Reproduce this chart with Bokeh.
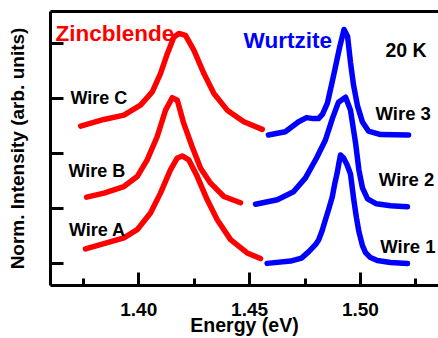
from bokeh.plotting import figure
from bokeh.models import Range1d, FixedTicker, LinearAxis, Label, PrintfTickFormatter
from bokeh.embed import file_html
from bokeh.resources import INLINE

# ---- data (energy in eV, normalized intensity with vertical offsets) ----
e_wire_a = [1.3760, 1.3843, 1.3933, 1.3993, 1.4053, 1.4098, 1.4143, 1.4174, 1.4196,
            1.4226, 1.4264, 1.4309, 1.4354, 1.4414, 1.4489, 1.4549]
i_wire_a = [0.271, 0.367, 0.471, 0.621, 0.923, 1.285, 1.707, 1.924, 1.960,
            1.888, 1.586, 1.164, 0.802, 0.440, 0.199, 0.096]

e_wire_b = [1.3765, 1.3843, 1.3933, 1.3993, 1.4038, 1.4083, 1.4121, 1.4151, 1.4174,
            1.4203, 1.4241, 1.4279, 1.4324, 1.4384, 1.4459]
i_wire_b = [1.213, 1.285, 1.405, 1.586, 1.888, 2.309, 2.793, 3.019, 2.974,
            2.552, 2.128, 1.738, 1.466, 1.224, 1.110]

e_wire_c = [1.3738, 1.3843, 1.3933, 1.4008, 1.4061, 1.4098, 1.4129, 1.4158, 1.4181,
            1.4211, 1.4249, 1.4294, 1.4339, 1.4399, 1.4474, 1.4557]
i_wire_c = [2.503, 2.624, 2.702, 2.883, 3.124, 3.457, 3.819, 4.119, 4.186,
            4.150, 3.879, 3.457, 3.095, 2.793, 2.581, 2.443]

e_wire_1 = [1.4579, 1.4685, 1.4734, 1.4767, 1.4797, 1.4812, 1.4827, 1.4842, 1.4856,
            1.4873, 1.4883, 1.4895, 1.4903, 1.4910, 1.4924, 1.4940, 1.4955, 1.4970,
            1.4982, 1.4993, 1.5009, 1.5023, 1.5045, 1.5076, 1.5136, 1.5212]
i_wire_1 = [0.009, 0.051, 0.105, 0.223, 0.349, 0.440, 0.603, 0.802, 0.983,
            1.218, 1.435, 1.652, 1.833, 1.978, 1.924, 1.797, 1.634, 1.164,
            0.838, 0.585, 0.331, 0.205, 0.114, 0.060, 0.024, 0.005]

e_wire_2 = [1.4527, 1.4625, 1.4698, 1.4752, 1.4802, 1.4842, 1.4874, 1.4901, 1.4933,
            1.4955, 1.4978, 1.4993, 1.5009, 1.5032, 1.5072, 1.5136, 1.5212]
i_wire_2 = [1.082, 1.164, 1.309, 1.562, 1.924, 2.250, 2.648, 2.938, 3.028,
            2.793, 2.195, 1.707, 1.381, 1.182, 1.091, 1.055, 1.037]

e_wire_3 = [1.4585, 1.4661, 1.4721, 1.4757, 1.4788, 1.4811, 1.4829, 1.4851, 1.4879,
            1.4906, 1.4926, 1.4942, 1.4955, 1.4969, 1.4987, 1.5009, 1.5036, 1.5091, 1.5217]
i_wire_3 = [2.340, 2.400, 2.581, 2.657, 2.639, 2.639, 2.720, 2.919, 3.426,
            3.933, 4.259, 4.132, 3.662, 3.245, 2.865, 2.576, 2.413, 2.349, 2.340]

x_ticks = [1.40, 1.45, 1.50]
x_minor_ticks = [1.375, 1.425, 1.475, 1.525]
y_ticks = [0, 1, 2, 3, 4]

RED = "#ff0000"
BLUE = "#0000ff"
FONT = "Liberation Sans"

p = figure(width=438, height=338,
           x_range=Range1d(1.3602, 1.5352), y_range=Range1d(-0.393, 4.585),
           output_backend="svg", toolbar_location=None,
           min_border_left=50, min_border_right=0, min_border_top=11, min_border_bottom=0)
p.outline_line_color = None
p.xgrid.visible = False
p.ygrid.visible = False
p.background_fill_color = "white"
p.border_fill_color = "white"

for e, i in [(e_wire_a, i_wire_a), (e_wire_b, i_wire_b), (e_wire_c, i_wire_c)]:
    p.line(e, i, line_color=RED, line_width=5.5, line_join="round", line_cap="round")
for e, i in [(e_wire_1, i_wire_1), (e_wire_2, i_wire_2), (e_wire_3, i_wire_3)]:
    p.line(e, i, line_color=BLUE, line_width=5.5, line_join="round", line_cap="round")

xa = p.xaxis[0]
xa.ticker = FixedTicker(ticks=x_ticks, minor_ticks=x_minor_ticks)
xa.formatter = PrintfTickFormatter(format="%.2f")
xa.axis_label = "Energy (eV)"
xa.axis_label_text_font = FONT
xa.axis_label_text_font_style = "bold"
xa.axis_label_text_font_size = "19.5px"
xa.axis_label_text_color = "black"
xa.axis_label_standoff = -5
xa.major_label_text_font = FONT
xa.major_label_text_font_style = "bold"
xa.major_label_text_font_size = "19px"
xa.major_label_text_color = "black"
xa.major_label_standoff = 17
xa.axis_line_width = 3
xa.axis_line_color = "black"
xa.major_tick_in = 13
xa.major_tick_out = 0
xa.minor_tick_in = 7
xa.minor_tick_out = 0
xa.major_tick_line_width = 3
xa.minor_tick_line_width = 3
xa.major_tick_line_color = "black"
xa.minor_tick_line_color = "black"

# y axis: unlabelled ticks (drawn as minor ticks so that no tick labels exist)
ya = p.yaxis[0]
ya.ticker = FixedTicker(ticks=[], minor_ticks=y_ticks)
ya.axis_label = "Norm. Intensity (arb. units)"
ya.axis_label_text_font = FONT
ya.axis_label_text_font_style = "bold"
ya.axis_label_text_font_size = "19px"
ya.axis_label_text_color = "black"
ya.axis_label_standoff = 23
ya.axis_line_width = 3
ya.axis_line_color = "black"
ya.minor_tick_in = 13
ya.minor_tick_out = 0
ya.minor_tick_line_width = 3
ya.minor_tick_line_color = "black"
ya.major_tick_line_color = None

top_axis = LinearAxis(ticker=FixedTicker(ticks=[], minor_ticks=[]), axis_line_width=3,
                      axis_line_color="black",
                      major_tick_line_color=None, minor_tick_line_color=None)
p.add_layout(top_axis, "above")

def add_label(x, y, text, color, size):
    p.add_layout(Label(x=x, y=y, text=text, text_color=color, text_font=FONT,
                       text_font_style="bold", text_font_size=size,
                       text_baseline="alphabetic", text_align="left"))

add_label(1.3625, 4.186, "Zincblende", RED, "22.5px")
add_label(1.4473, 4.060, "Wurtzite", BLUE, "22.5px")
add_label(1.5113, 3.879, "20 K", "black", "19.5px")
add_label(1.3692, 3.010, "Wire C", "black", "18px")
add_label(1.3683, 1.680, "Wire B", "black", "18px")
add_label(1.3685, 0.621, "Wire A", "black", "18px")
add_label(1.5068, 2.738, "Wire 3", "black", "18.5px")
add_label(1.5083, 1.526, "Wire 2", "black", "18.5px")
add_label(1.5089, 0.319, "Wire 1", "black", "18.5px")

open("out.html", "w").write(file_html(p, INLINE))
